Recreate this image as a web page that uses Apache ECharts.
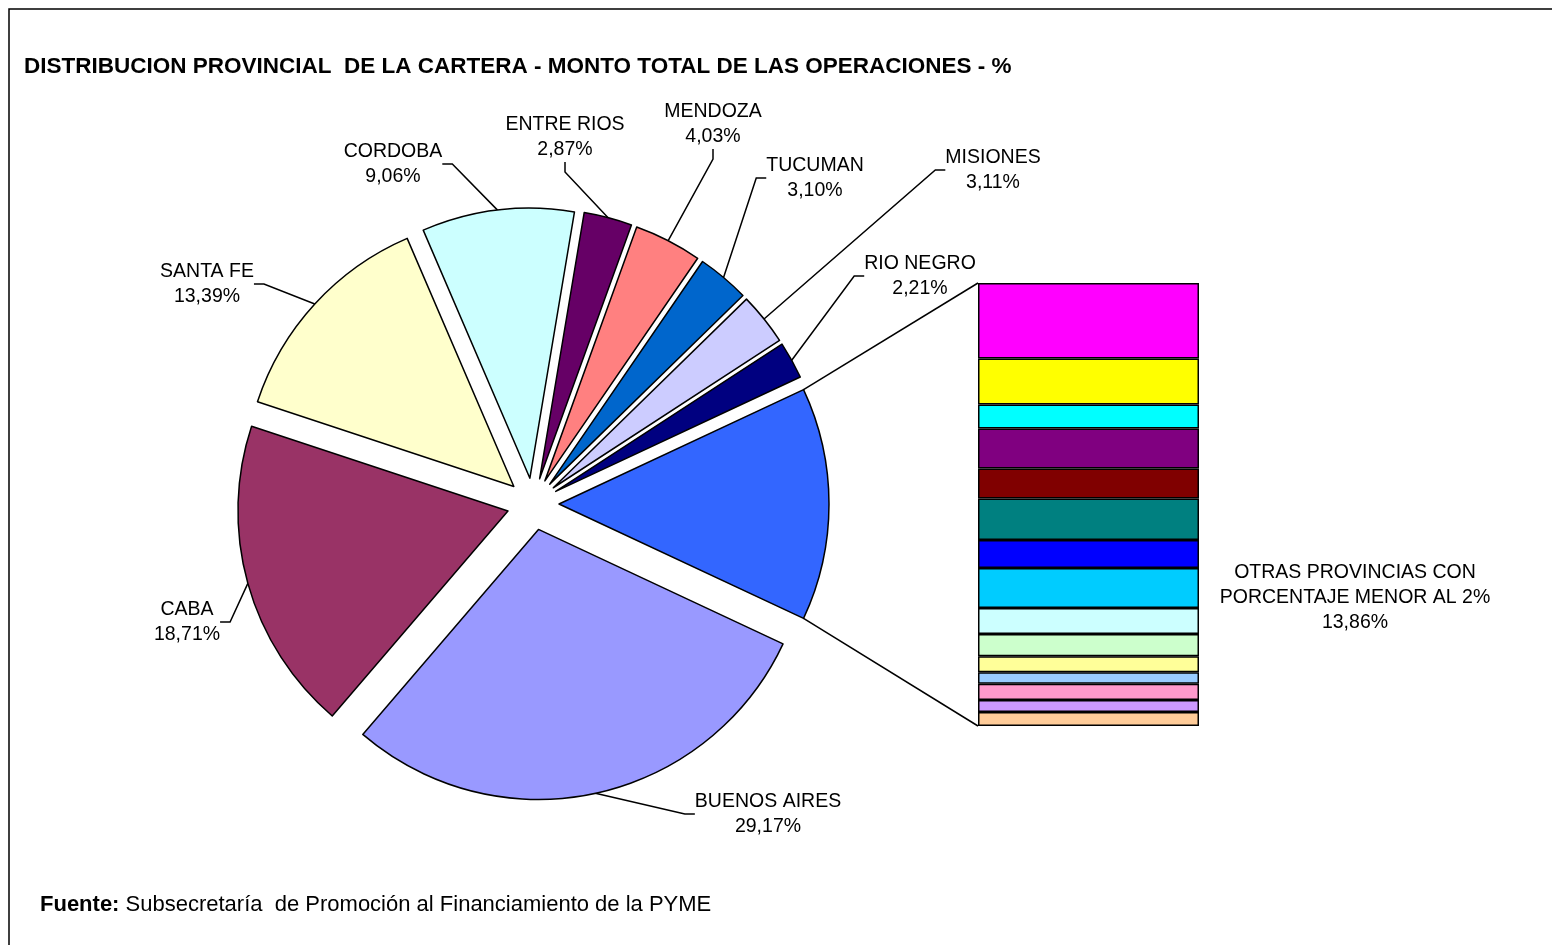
<!DOCTYPE html>
<html>
<head>
<meta charset="utf-8">
<script src="https://cdn.jsdelivr.net/npm/echarts@6/dist/echarts.min.js"></script>
<style>
html,body{margin:0;padding:0;background:#fff;}
#chart{width:1552px;height:945px;}
</style>
</head>
<body>
<div id="chart"></div>
<script>
// ---- data ----
const categories = ['BUENOS AIRES', 'CABA', 'SANTA FE', 'CORDOBA', 'ENTRE RIOS', 'MENDOZA', 'TUCUMAN', 'MISIONES', 'RIO NEGRO', 'OTRAS PROVINCIAS CON\nPORCENTAJE MENOR AL 2%'];
const shares = [29.17, 18.71, 13.39, 9.06, 2.87, 4.03, 3.10, 3.11, 2.21, 13.86];
// breakdown of "otras provincias" (bar, top to bottom)
const otherShares = [2.36, 1.44, 0.75, 1.25, 0.94, 1.30, 0.88, 1.25, 0.81, 0.70, 0.50, 0.36, 0.51, 0.37, 0.44];

// ---- styles / layout ----
const sliceColors = ['#9999FF', '#993366', '#FFFFCC', '#CCFFFF', '#660066', '#FF8080', '#0066CC', '#CCCCFF', '#000080', '#3366FF'];
const otherColors = ['#FF00FF', '#FFFF00', '#00FFFF', '#800080', '#800000', '#008080', '#0000FF', '#00CCFF', '#CCFFFF', '#CCFFCC', '#FFFF99', '#99CCFF', '#FF99CC', '#CC99FF', '#FFCC99'];
const labelPos = [[768, 814], [187, 622], [207, 284], [393, 164], [565, 137], [713, 124], [815, 178], [993, 170], [920, 276], [1355, 598]];

const FONT = '"Liberation Sans", Arial, sans-serif';
const PIE_C = [533, 504], PIE_R = 270, EXPLODE = 26;
const BAR = { left: 978, top: 283, width: 221, height: 443 };

const total = shares.reduce((a, b) => a + b, 0);
const otherTotal = otherShares.reduce((a, b) => a + b, 0);
const otherIdx = shares.length - 1;
const halfOther = 180 * shares[otherIdx] / total;

function fmt(v) { return v.toFixed(2).replace('.', ',') + '%'; }

const chart = echarts.init(document.getElementById('chart'), null, { renderer: 'canvas' });

// one pie series per slice, each pushed out along its bisector (exploded pie)
const pieSeries = [];
let cum = 0;
categories.forEach((name, i) => {
  const span = 360 * shares[i] / total;
  const start = -halfOther - cum;
  const mid = (start - span / 2) * Math.PI / 180;
  cum += span;
  const center = [PIE_C[0] + EXPLODE * Math.cos(mid), PIE_C[1] - EXPLODE * Math.sin(mid)];
  pieSeries.push({
    type: 'pie',
    name: name,
    center: center,
    radius: PIE_R,
    startAngle: start,
    clockwise: true,
    avoidLabelOverlap: false,
    emphasis: { disabled: true },
    silent: true,
    itemStyle: { borderColor: '#000', borderWidth: 1.5 },
    label: {
      show: true,
      position: 'outside',
      alignTo: 'none',
      formatter: p => p.name + '\n' + fmt(p.value),
      fontFamily: FONT, fontSize: 19.5, lineHeight: 25, color: '#000', align: 'center'
    },
    labelLine: { show: i !== otherIdx, length: 20, length2: 10, lineStyle: { color: '#000', width: 1.5 } },
    labelLayout: params => {
      if (params.dataIndex !== 0) return {};
      const p = labelPos[i];
      return { x: p[0], y: p[1], align: 'center', verticalAlign: 'middle' };
    },
    data: [
      { name: name, value: shares[i], itemStyle: { color: sliceColors[i] } },
      {
        name: '', value: total - shares[i],
        itemStyle: { color: 'rgba(0,0,0,0)', borderWidth: 0 },
        label: { show: false }, labelLine: { show: false }
      }
    ]
  });
});

const barSeries = otherShares.map((v, i) => ({
  type: 'bar',
  stack: 'otras',
  barWidth: '100%',
  data: [v],
  itemStyle: { color: otherColors[i], borderColor: '#000', borderWidth: 1.5 },
  emphasis: { disabled: true },
  silent: true
}));

// connector lines between the split slice and the bar
const oc = [PIE_C[0] + EXPLODE, PIE_C[1]];
const a = halfOther * Math.PI / 180;
const topCorner = [oc[0] + PIE_R * Math.cos(a), oc[1] - PIE_R * Math.sin(a)];
const botCorner = [oc[0] + PIE_R * Math.cos(a), oc[1] + PIE_R * Math.sin(a)];

chart.setOption({
  animation: false,
  backgroundColor: '#fff',
  title: [
    {
      text: 'DISTRIBUCION PROVINCIAL  DE LA CARTERA - MONTO TOTAL DE LAS OPERACIONES - %',
      left: 24, top: 55, padding: 0,
      textStyle: { fontFamily: FONT, fontWeight: 'bold', fontSize: 22.5, color: '#000' }
    },
    {
      text: '{b|Fuente:} Subsecretaría  de Promoción al Financiamiento de la PYME',
      left: 40, top: 894, padding: 0,
      textStyle: {
        fontFamily: FONT, fontSize: 22, fontWeight: 'normal', color: '#000',
        rich: { b: { fontFamily: FONT, fontSize: 22, fontWeight: 'bold', color: '#000' } }
      }
    }
  ],
  grid: { left: BAR.left, top: BAR.top, width: BAR.width, height: BAR.height },
  xAxis: { type: 'category', data: ['OTRAS'], show: false },
  yAxis: { type: 'value', min: 0, max: otherTotal, inverse: true, show: false },
  series: [...pieSeries, ...barSeries],
  graphic: [
    { type: 'rect', shape: { x: 9, y: 9, width: 1700, height: 1100 }, style: { fill: null, stroke: '#000', lineWidth: 1.5 }, silent: true },
    { type: 'polyline', shape: { points: [topCorner, [BAR.left, BAR.top]] }, style: { stroke: '#000', lineWidth: 1.5, fill: null }, silent: true },
    { type: 'polyline', shape: { points: [botCorner, [BAR.left, BAR.top + BAR.height]] }, style: { stroke: '#000', lineWidth: 1.5, fill: null }, silent: true }
  ]
});
</script>
</body>
</html>
